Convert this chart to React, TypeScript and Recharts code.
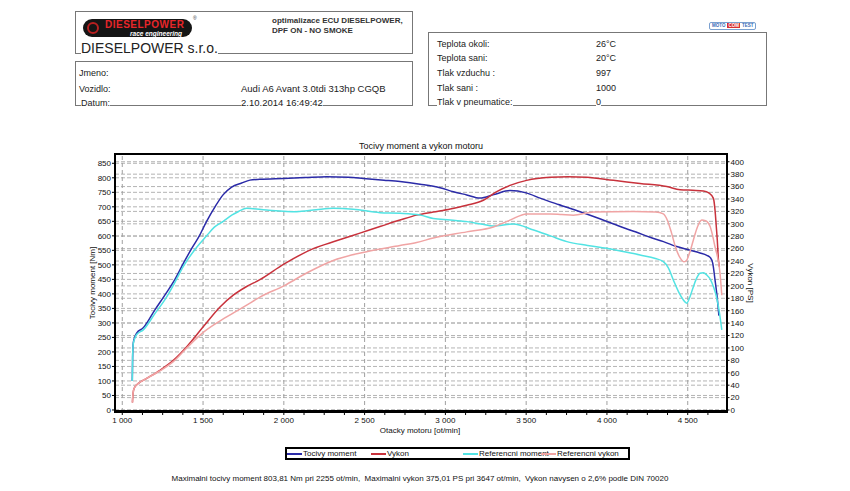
import React from "react"
import { LineChart, Line, XAxis, YAxis, CartesianGrid, ReferenceLine } from "recharts"

const font = "'Liberation Sans', Arial, sans-serif"

// measured curves, rpm / value pairs per series
const torqueRpm = [1062, 1064, 1068, 1080, 1089, 1130, 1202, 1275, 1326, 1378, 1430, 1477, 1522, 1574, 1625, 1677, 1739, 1790, 1852, 1997, 2130, 2265, 2400, 2492, 2620, 2719, 2843, 2967, 3050, 3132, 3214, 3300, 3400, 3500, 3586, 3700, 3834, 3960, 4082, 4180, 4267, 4350, 4432, 4510, 4576, 4618, 4640, 4655, 4669, 4680, 4693]
const torqueNm = [100, 180, 230, 255, 265, 283, 345, 405, 450, 505, 557, 600, 650, 700, 742, 768, 782, 792, 795, 798, 801, 804, 802, 798, 792, 787, 778, 766, 752, 741, 730, 742, 756, 748, 730, 708, 683, 658, 632, 613, 595, 580, 563, 551, 541, 533, 525, 505, 448, 400, 325]

const powerRpm = [1063, 1065, 1070, 1080, 1100, 1151, 1233, 1316, 1399, 1501, 1605, 1687, 1770, 1852, 2000, 2182, 2330, 2471, 2600, 2719, 2822, 2925, 3030, 3132, 3235, 3318, 3400, 3503, 3648, 3760, 3875, 4040, 4205, 4370, 4453, 4530, 4597, 4630, 4659, 4669, 4677, 4683, 4690, 4696]
const powerPs = [12, 22, 32, 38, 43, 51, 64, 80, 102, 134, 166, 185, 199, 210, 235, 260, 273, 285, 296, 306, 314, 319, 324, 330, 338, 352, 362, 370, 375, 376, 375, 370, 365, 360, 355, 354, 353, 350, 341, 322, 295, 274, 242, 231]

const refTorqueRpm = [1062, 1064, 1068, 1080, 1089, 1130, 1202, 1275, 1326, 1378, 1450, 1522, 1570, 1625, 1680, 1720, 1770, 1893, 2080, 2200, 2306, 2430, 2595, 2719, 2843, 2925, 3030, 3132, 3220, 3297, 3421, 3546, 3650, 3752, 3880, 3999, 4100, 4205, 4300, 4349, 4380, 4411, 4445, 4473, 4494, 4515, 4535, 4556, 4576, 4597, 4618, 4640, 4659, 4680, 4695, 4711]
const refTorqueNm = [100, 180, 228, 250, 260, 276, 332, 390, 440, 495, 553, 600, 630, 650, 672, 684, 695, 689, 683, 690, 695, 692, 680, 678, 672, 660, 655, 649, 641, 634, 641, 620, 600, 580, 567, 557, 546, 534, 522, 511, 490, 448, 405, 379, 368, 392, 425, 455, 471, 473, 465, 450, 425, 385, 340, 276]

const refPowerRpm = [1063, 1065, 1070, 1080, 1100, 1151, 1233, 1316, 1399, 1501, 1646, 1770, 1852, 2000, 2150, 2306, 2513, 2719, 2822, 2925, 3132, 3297, 3400, 3503, 3648, 3720, 3792, 3916, 4164, 4300, 4349, 4375, 4400, 4425, 4453, 4475, 4490, 4510, 4535, 4560, 4587, 4610, 4638, 4669, 4700, 4711]
const refPowerPs = [12, 22, 32, 38, 43, 51, 63, 78, 100, 125, 150, 169, 182, 200, 222, 241, 255, 265, 270, 277, 287, 295, 306, 316, 316, 315, 314, 319, 320, 319, 316, 305, 285, 262, 245, 239, 240, 252, 274, 295, 306, 305, 296, 263, 220, 185]

const rpmMajor = [1000, 1500, 2000, 2500, 3000, 3500, 4000, 4500]
const rpmMinor = Array.from({ length: 30 }, (_, i) => 1000 + i * 125)
const nmTicks = [0, 50, 100, 150, 200, 250, 300, 350, 400, 450, 500, 550, 600, 650, 700, 750, 800, 850]
const psTicks = [0, 20, 40, 60, 80, 100, 120, 140, 160, 180, 200, 220, 240, 260, 280, 300, 320, 340, 360, 380, 400]

const zip = (xs: number[], ys: number[]) => xs.map((rpm, i) => ({ rpm, v: ys[i] }))

const series = [
	{ name: "Tocivy moment", color: "#2b2ba8", axis: "left", data: zip(torqueRpm, torqueNm), legendX: 287, textX: 303 },
	{ name: "Vykon", color: "#c8323c", axis: "right", data: zip(powerRpm, powerPs), legendX: 371, textX: 387 },
	{ name: "Referencni moment", color: "#52e3e3", axis: "left", data: zip(refTorqueRpm, refTorqueNm), legendX: 463, textX: 479 },
	{ name: "Referencni vykon", color: "#f0a4a4", axis: "right", data: zip(refPowerRpm, refPowerPs), legendX: 541, textX: 557 },
]

const fmtRpm = (v: number) => (v % 500 === 0 ? `${Math.floor(v / 1000)} ${String(v % 1000).padStart(3, "0")}` : "")

const abs = (left: number, top: number, extra: React.CSSProperties = {}): React.CSSProperties => ({
	position: "absolute",
	left,
	top,
	whiteSpace: "nowrap",
	...extra,
})

const Row = ({ x, y, text, size = 9 }: { x: number; y: number; text: string; size?: number }) => (
	<div style={abs(x, y - 6, { fontSize: size, lineHeight: "12px", background: "#fff", color: "#222" })}>{text}</div>
)

export default function App() {
	const tick = { fontSize: 8, fill: "#111", fontFamily: font }
	return (
		<div style={{ position: "absolute", left: 0, top: 0, width: 850, height: 491, background: "#fff", fontFamily: font, overflow: "hidden" }}>
			{/* header box 1 */}
			<div style={abs(75, 11, { width: 338, height: 43, border: "1px solid #777", boxSizing: "border-box" })} />
			<div style={abs(83, 19, { width: 109, height: 18, background: "#151515", borderRadius: 9 })}>
				<div style={abs(4, 2.5, { width: 12, height: 12, borderRadius: "50%", border: "2px solid #b82020", boxSizing: "border-box" })} />
				<div style={abs(22, 0.5, { fontSize: 10, fontWeight: "bold", color: "#e8262a", letterSpacing: 0.5, lineHeight: "10px" })}>DIESELPOWER</div>
				<div style={abs(47, 10.5, { fontSize: 6.5, fontStyle: "italic", fontWeight: "bold", color: "#fff", lineHeight: "7px" })}>race engineering</div>
			</div>
			<div style={abs(193, 15, { fontSize: 5, color: "#333" })}>®</div>
			<div style={abs(272, 16, { fontSize: 8, fontWeight: "bold", lineHeight: "10px", color: "#333" })}>
				optimalizace ECU DIESELPOWER,
				<br />
				DPF ON - NO SMOKE
			</div>
			<div style={abs(81, 41, { fontSize: 14, lineHeight: "15px", background: "#fff", color: "#222" })}>DIESELPOWER s.r.o.</div>

			{/* header box 2 */}
			<div style={abs(75, 61, { width: 338, height: 45, border: "1px solid #777", boxSizing: "border-box" })} />
			<Row x={79} y={73} text="Jmeno:" />
			<Row x={79} y={88.5} text="Vozidlo:" />
			<Row x={81} y={103} text="Datum:" />
			<Row x={241} y={88.5} text="Audi A6 Avant 3.0tdi 313hp CGQB" size={9.5} />
			<Row x={241} y={103} text="2.10.2014 16:49:42" size={9.5} />

			{/* header box 3 */}
			<div style={abs(709, 22, { width: 47, height: 8, border: "1px solid #7aa0d0", borderRadius: 2, boxSizing: "border-box", fontSize: 4.5, fontWeight: "bold", lineHeight: "6px" })}>
				<span style={{ color: "#3a6bb5", marginLeft: 2 }}>MOTO</span>
				<span style={{ color: "#fff", background: "#d83030", padding: "0 1px", margin: "0 2px" }}>COM</span>
				<span style={{ color: "#3a6bb5" }}>TEST</span>
			</div>
			<div style={abs(428, 32, { width: 339, height: 74, border: "1px solid #777", boxSizing: "border-box" })} />
			<Row x={437} y={44} text="Teplota okoli:" />
			<Row x={437} y={58.3} text="Teplota sani:" />
			<Row x={437} y={72.7} text="Tlak vzduchu :" />
			<Row x={437} y={87.5} text="Tlak sani :" />
			<Row x={437} y={102} text="Tlak v pneumatice:" />
			<Row x={596} y={44} text="26°C" />
			<Row x={596} y={58.3} text="20°C" />
			<Row x={596} y={72.7} text="997" />
			<Row x={596} y={87.5} text="1000" />
			<Row x={596} y={102} text="0" />

			{/* chart */}
			<div style={abs(421, 146, { transform: "translate(-50%, -50%)", fontSize: 9, color: "#111" })}>Tocivy moment a vykon motoru</div>
			<div style={{ position: "absolute", left: 0, top: 0 }}>
				<LineChart width={850} height={491} margin={{ top: 154.3, left: 75, right: 83.5, bottom: 59 }}>
					<CartesianGrid xAxisId="x" yAxisId="left" vertical={false} stroke="#b4b4b4" strokeDasharray="4 2" />
					<CartesianGrid xAxisId="x" yAxisId="right" vertical={false} stroke="#b4b4b4" strokeDasharray="4 2" />
					{rpmMajor.map((v) => (
						<ReferenceLine key={v} xAxisId="x" yAxisId="left" x={v} stroke="#a0a0a0" strokeDasharray="4 3" />
					))}
					<XAxis
						xAxisId="x"
						type="number"
						dataKey="rpm"
						domain={[955, 4740]}
						allowDataOverflow
						ticks={rpmMinor}
						interval={0}
						tickFormatter={fmtRpm}
						tickSize={3}
						tickMargin={2}
						axisLine={false}
						tickLine={{ stroke: "#000" }}
						height={20}
						tick={tick}
					/>
					<YAxis
						yAxisId="left"
						orientation="left"
						width={40}
						domain={[-7, 881]}
						allowDataOverflow
						ticks={nmTicks}
						interval={0}
						tickSize={3}
						tickMargin={1}
						axisLine={false}
						tickLine={{ stroke: "#000" }}
						tick={tick}
					/>
					<YAxis
						yAxisId="right"
						orientation="right"
						width={40}
						domain={[-3.2, 412]}
						allowDataOverflow
						ticks={psTicks}
						interval={0}
						tickSize={3}
						tickMargin={1}
						axisLine={false}
						tickLine={{ stroke: "#000" }}
						tick={tick}
					/>
					{series.map((s) => (
						<Line
							key={s.name}
							xAxisId="x"
							yAxisId={s.axis}
							data={s.data}
							dataKey="v"
							name={s.name}
							type="monotone"
							stroke={s.color}
							strokeWidth={1.5}
							dot={false}
							activeDot={false}
							isAnimationActive={false}
						/>
					))}
				</LineChart>
			</div>
			{/* plot frame */}
			<div style={abs(114, 153, { width: 614, height: 260, border: "2px solid #000", borderBottomWidth: 3, boxSizing: "border-box", pointerEvents: "none" })} />
			<div style={abs(91.5, 283, { transform: "translate(-50%, -50%) rotate(-90deg)", fontSize: 8, color: "#111" })}>Tocivy moment [Nm]</div>
			<div style={abs(750, 283, { transform: "translate(-50%, -50%) rotate(90deg)", fontSize: 8, color: "#111" })}>Vykon [PS]</div>
			<div style={abs(420, 430, { transform: "translate(-50%, -50%)", fontSize: 8, color: "#111" })}>Otacky motoru [ot/min]</div>

			{/* legend */}
			<div style={abs(285, 447, { width: 345, height: 13, border: "2px solid #000", boxSizing: "border-box" })} />
			{series.map((s) => (
				<React.Fragment key={s.name}>
					<div style={abs(s.legendX, 452.5, { width: 15, height: 2, background: s.color })} />
					<div style={abs(s.textX, 447.5, { fontSize: 8, lineHeight: "12px", color: "#111" })}>{s.name}</div>
				</React.Fragment>
			))}

			<div style={abs(420, 478, { transform: "translate(-50%, -50%)", fontSize: 8, color: "#111" })}>
				Maximalni tocivy moment 803,81 Nm pri 2255 ot/min,&nbsp; Maximalni vykon 375,01 PS pri 3647 ot/min,&nbsp; Vykon navysen o 2,6% podle DIN 70020
			</div>
		</div>
	)
}
